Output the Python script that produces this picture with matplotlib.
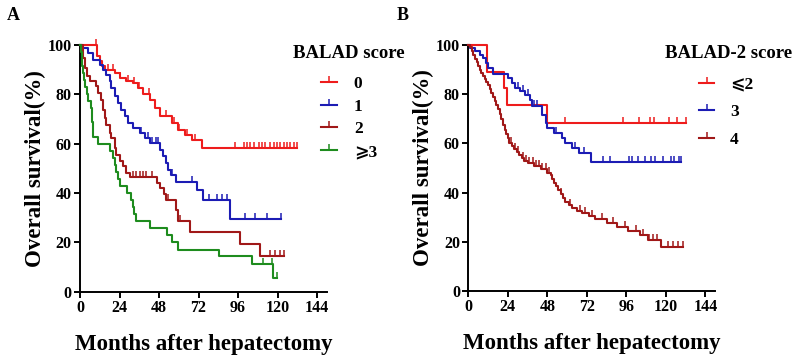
import numpy as np
import matplotlib
matplotlib.use('Agg')
import matplotlib.pyplot as plt
from matplotlib.lines import Line2D

plt.rcParams['font.family'] = ['Liberation Serif', 'DejaVu Serif', 'DejaVu Sans']
plt.rcParams['font.weight'] = 'bold'

# ---- Panel A: BALAD score (months, survival %) ----
a0_t = [10.5, 12, 13.3, 15, 21, 24, 28, 32, 35.3, 38.3, 42.4, 45.5, 48.5, 55.6, 59.6, 63.7, 67.8, 73.8]
a0_s = [95.4, 93.4, 91.4, 89.7, 88.6, 86.6, 85.5, 84.6, 82.6, 80, 77.8, 74.5, 71.1, 68.4, 65.7, 63.6, 61.6, 58.3]
a0_end = 131.8
a0_cens = [10, 17, 20, 24, 29, 33, 36, 42, 52, 57, 60, 65, 70, 94, 99.4, 101.4, 103.4, 105.4, 108.5,
           110.5, 112.5, 115.6, 117.6, 119.6, 121.7, 123.7, 125.7, 127.8, 129.8, 131.8]

a1_t = [1, 4.9, 7.9, 12, 14, 15.8, 18, 19, 21, 23, 25, 27.2, 29.2, 32.3, 36.3, 39.4, 42.4, 48.5,
        50.5, 52, 53.5, 55, 58.6, 70.8, 74.9, 91.3]
a1_s = [98.6, 96.8, 94, 92, 90, 88, 85.3, 82.6, 79.2, 76.5, 73.8, 71.1, 68.4, 66.4, 64.3, 62.3, 60.3,
        57.6, 54.9, 52.2, 49.5, 47.3, 44.6, 41.2, 37.2, 29.6]
a1_end = 122.3
a1_cens = [37, 41, 44, 46, 47.5, 56, 68, 78.1, 83.2, 86.2, 89.3, 100.4, 106.5, 113.6, 122.3]

a2_t = [1.8, 2.8, 4.5, 5.9, 9.9, 11.2, 12.6, 14, 15, 16, 18, 19, 21, 22, 24.1, 26.2, 28.2, 30.2,
        46.5, 48.5, 51.1, 52.5, 58.6, 59.6, 66.5, 97, 109.6]
a2_s = [94.7, 90.7, 87.3, 85.3, 83.3, 80.5, 77.8, 73.8, 70.4, 67.7, 64.3, 62.3, 58.2, 55.5, 52.9,
        50.8, 48, 46.5, 43.9, 41.9, 39.8, 37, 33.1, 28.8, 24, 19.2, 14.4]
a2_end = 123.8
a2_cens = [32, 34, 36.5, 38.5, 40, 44, 53.5, 60.5, 115.6, 118.7, 121.7, 123.8]

a3_t = [0.5, 1, 1.5, 2, 2.5, 3, 4, 5, 6.9, 7.2, 7.5, 7.7, 8, 11, 18.3, 20, 21, 22, 23.3, 24.3,
        28.4, 31, 32, 33, 34, 42.6, 52.8, 55.8, 59.8, 84.2, 104.5, 117.3]
a3_s = [97.1, 94.3, 91.4, 88.6, 85.7, 82.9, 80, 77.1, 74.3, 71.4, 68.6, 65.7, 62.9, 60, 57.1, 54.3,
        51.4, 48.6, 45.7, 42.9, 40, 37.1, 34.3, 31.4, 28.6, 25.7, 22.9, 20, 17.1, 14.3, 11.4, 5.7]
a3_end = 119.5
a3_cens = [111.2, 116.3, 119.5]

# ---- Panel B: BALAD-2 score ----
b2_t = [11.2, 21.4, 23.4, 47.9]
b2_s = [88.9, 82.5, 75.7, 68.3]
b2_end = 132.4
b2_cens = [58.7, 94, 103.9, 110.6, 112.6, 121.6, 126.9, 132.4]

b3_t = [1, 4.1, 7.1, 9.2, 10.6, 12.2, 15.3, 24.4, 26.5, 28.5, 31.6, 34.6, 37.7, 38.7, 44.8, 46.9,
        48, 51.9, 57, 59, 63.2, 67.2, 74.3]
b3_s = [98.8, 97.7, 96.1, 94.7, 92.7, 90.7, 88.2, 86.6, 84.6, 82.5, 81.2, 79.8, 77.8, 75.1, 71.7,
        68.3, 66.3, 64.2, 62.2, 60.2, 58.1, 56.1, 52.4]
b3_end = 129.3
b3_cens = [30, 33, 36, 40, 42, 53, 65, 70, 81.5, 85.9, 97.4, 99.2, 102.9, 107.5, 111, 113.4, 118.5,
           123.2, 125.2, 127.7, 129.3]

b4_t = [1, 2, 3, 4, 5, 6, 7, 8, 9, 10, 11, 12, 13, 14, 15, 16, 17, 18, 19, 20, 21, 22, 23, 24, 25,
        26.5, 28, 29.5, 31, 32.5, 34, 36, 40, 44, 48, 50, 51, 52, 53, 54.5, 56, 57.5, 59, 61, 63,
        66, 69, 73, 77, 84.5, 90.5, 97, 104, 109, 117]
b4_s = [99, 97.6, 96, 94.5, 93, 91.5, 90, 88.8, 87.5, 86.3, 85, 83.6, 82, 80.6, 79, 77.4, 75.8, 74,
        72, 69.8, 67.5, 65.5, 63.8, 62, 60.3, 59, 57.8, 56.6, 55.3, 54, 52.8, 52, 50.8, 49.6, 48, 47,
        45.5, 44, 42.5, 41, 39.6, 38, 36, 34.8, 33.6, 32.6, 31.6, 30.5, 29.3, 27.8, 26.1, 24.5, 22.8,
        20.7, 18]
b4_end = 130.4
b4_cens = [26, 28.5, 30, 33, 35, 37, 39, 41, 43, 45, 47, 49, 56.5, 62, 68, 71, 75, 81, 88, 95, 102,
           106, 110, 112, 114.5, 121, 124.5, 127.5, 130.4]

labels_a = ['0', '1', '2', '⩾3']
labels_b = ['⩽2', '3', '4']

red = '#ee1c1c'
blue = '#1c1cb4'
dred = '#a01818'
green = '#1e8c1e'


def km(ax, t, s, end, cens, color):
    x = np.r_[0, t, end]
    y = np.r_[100, s, s[-1]]
    ax.step(x, y, where='post', color=color, lw=1.5, clip_on=False, zorder=3)
    cy = y[np.searchsorted(x, cens, side='right') - 1]
    ax.plot(cens, cy, ls='none', marker=2, ms=4.5, mew=1.1, color=color, clip_on=False, zorder=3)


def style(ax):
    ax.set_xlim(0, 150)
    ax.set_ylim(0, 100)
    ax.set_xticks(range(0, 145, 24))
    ax.set_yticks(range(0, 101, 20))
    for side in ['top', 'right']:
        ax.spines[side].set_visible(False)
    for side in ['left', 'bottom']:
        ax.spines[side].set_linewidth(1.4)
    ax.tick_params(direction='out', length=4, width=1.4, labelsize=11.5, pad=2)
    for lab in ax.get_xticklabels() + ax.get_yticklabels():
        lab.set_fontweight('bold')
    ax.set_ylabel('Overall survival(%)', fontsize=16.5, fontweight='bold')
    ax.set_xlabel('Months after hepatectomy', fontsize=16.5, fontweight='bold')
    ax.yaxis.set_label_coords(-0.138, 0.5)
    ax.xaxis.set_label_coords(0.5, -0.17)


fig = plt.figure(figsize=(7.99, 3.64), dpi=100)
axA = fig.add_axes([80 / 799, 72.3 / 364, 247 / 799, 246.7 / 364])
axB = fig.add_axes([468.3 / 799, 73 / 364, 247 / 799, 246 / 364])

km(axA, a0_t, a0_s, a0_end, a0_cens, red)
km(axA, a1_t, a1_s, a1_end, a1_cens, blue)
km(axA, a2_t, a2_s, a2_end, a2_cens, dred)
km(axA, a3_t, a3_s, a3_end, a3_cens, green)

km(axB, b2_t, b2_s, b2_end, b2_cens, red)
km(axB, b3_t, b3_s, b3_end, b3_cens, blue)
km(axB, b4_t, b4_s, b4_end, b4_cens, dred)

style(axA)
style(axB)


def handle(c):
    return Line2D([], [], color=c, lw=1.5, marker=2, ms=4.5, mew=1.1)


legA = fig.legend([handle(red), handle(blue), handle(dred), handle(green)], labels_a,
                  loc='upper center', bbox_to_anchor=(349 / 799, 1 - 67 / 364),
                  frameon=False, fontsize=12.5, numpoints=1,
                  handlelength=0.9, handletextpad=1.0, labelspacing=0.38, borderpad=0)
legB = fig.legend([handle(red), handle(blue), handle(dred)], labels_b,
                  loc='upper center', bbox_to_anchor=(726 / 799, 1 - 68 / 364),
                  frameon=False, fontsize=12.5, numpoints=1,
                  handlelength=0.9, handletextpad=0.9, labelspacing=0.65, borderpad=0)
for leg in (legA, legB):
    for txt in leg.get_texts():
        txt.set_fontweight('bold')

fig.text(349 / 799, 1 - 54 / 364, 'BALAD score', fontsize=13.5, fontweight='bold',
         ha='center', va='center')
fig.text(729 / 799, 1 - 54 / 364, 'BALAD-2 score', fontsize=13.5, fontweight='bold',
         ha='center', va='center')

fig.text(13 / 799, 1 - 15 / 364, 'A', fontsize=13, fontweight='bold', ha='center', va='center')
fig.text(403 / 799, 1 - 15 / 364, 'B', fontsize=13, fontweight='bold', ha='center', va='center')

fig.savefig('out.png', dpi=100)
